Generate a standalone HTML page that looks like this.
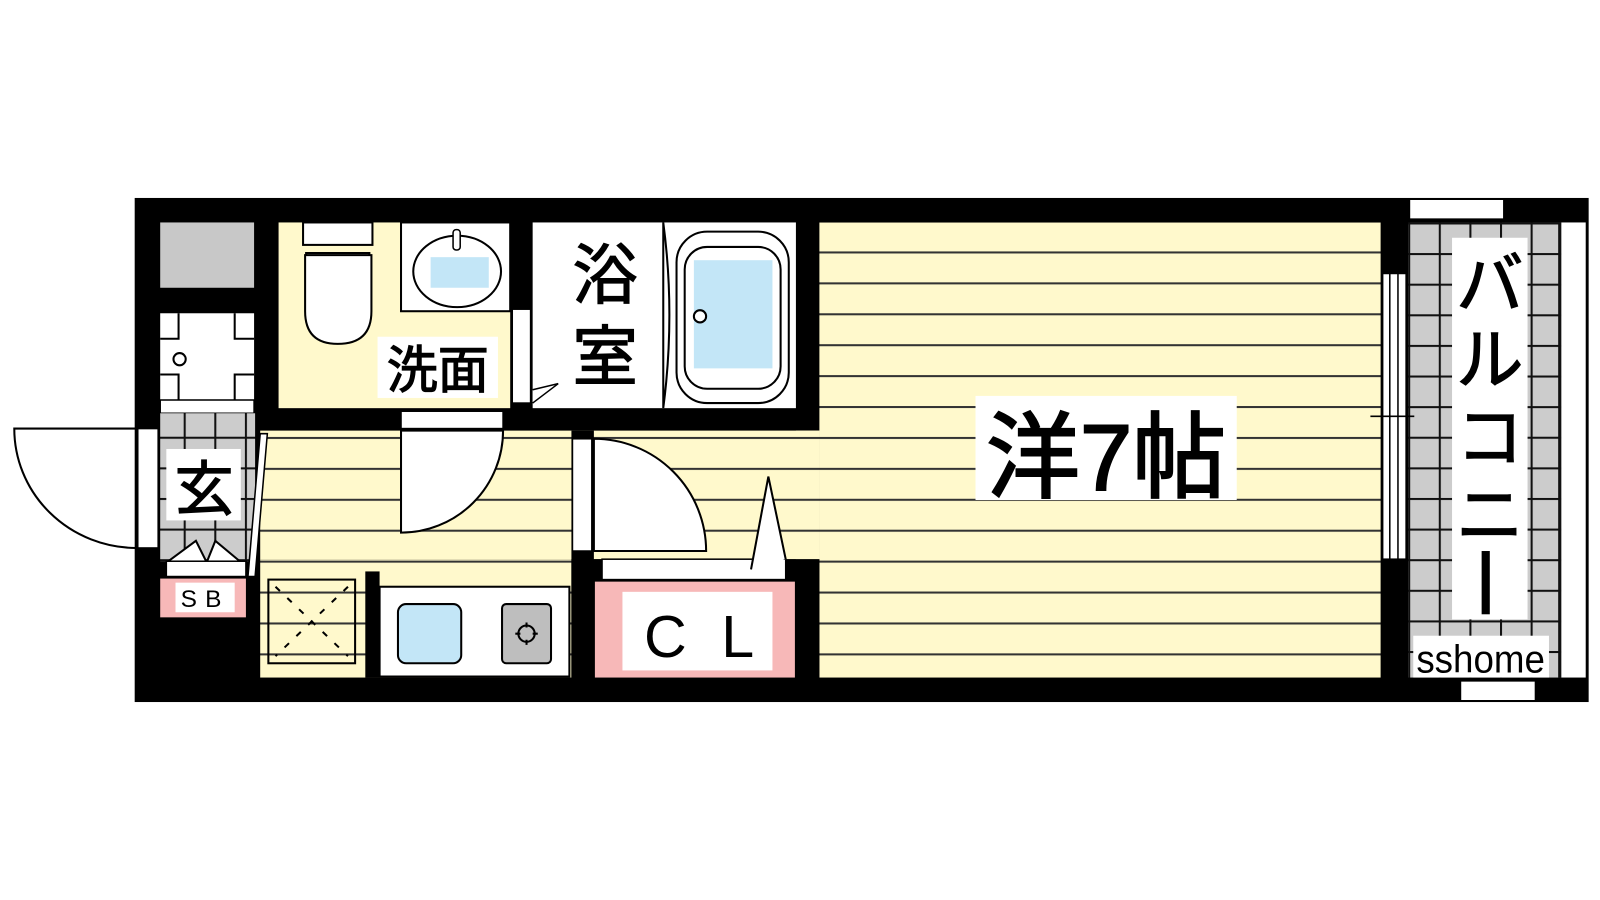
<!DOCTYPE html>
<html><head><meta charset="utf-8"><style>
html,body{margin:0;padding:0;background:#fff;}
svg{display:block;}
text{font-family:"Liberation Sans","Noto Sans CJK JP",sans-serif;fill:#000;}
.b{stroke:#000;stroke-width:1.2;}
</style></head><body>
<svg width="1600" height="900" viewBox="0 0 1568 882" preserveAspectRatio="none" xmlns="http://www.w3.org/2000/svg">
<defs>
<pattern id="st" x="0" y="4" width="10" height="30.3" patternUnits="userSpaceOnUse">
<rect width="10" height="30.3" fill="#FFF9CC"/><rect y="0" width="10" height="2" fill="#333"/>
</pattern>
<pattern id="gr" x="1380" y="218" width="30" height="30" patternUnits="userSpaceOnUse">
<rect width="30" height="30" fill="#CCCCCC"/><rect x="0" y="0" width="30" height="2" fill="#111"/><rect x="0" y="0" width="2" height="30" fill="#111"/>
</pattern>
</defs>
<rect x="132" y="194" width="1425" height="494" fill="#000"/>
<rect x="1380" y="218" width="150" height="446" fill="url(#gr)"/>
<rect x="1530" y="218" width="24" height="446" fill="#fff"/>
<rect x="1527" y="218" width="3" height="446" fill="#111"/>
<rect x="1382" y="196" width="91" height="18" fill="#fff"/>
<rect x="1432" y="668" width="72" height="18" fill="#fff"/>
<rect x="1557" y="194" width="11" height="494" fill="#fff"/>
<rect x="803" y="218" width="550" height="446" fill="url(#st)"/>
<rect x="255" y="422" width="548" height="126" fill="url(#st)"/>
<rect x="255" y="548" width="305" height="116" fill="url(#st)"/>
<rect x="780" y="422" width="23" height="126" fill="url(#st)"/>
<rect x="560" y="422" width="22" height="242" fill="#000"/>
<rect x="780" y="548" width="23" height="116" fill="#000"/>
<rect x="358" y="560" width="14" height="104" fill="#000"/>
<rect x="560" y="548" width="220" height="116" fill="#000"/>
<rect x="561" y="430" width="19" height="110" fill="#fff" stroke="#000" stroke-width="1.5"/>
<rect x="590" y="548" width="180" height="20" fill="#fff" stroke="#000" stroke-width="1.5"/>
<rect x="583" y="570" width="196" height="94" fill="#F7B8B8"/>
<rect x="610" y="580" width="147" height="77" fill="#fff"/>
<text x="652" y="644" font-size="58" text-anchor="middle">C</text>
<text x="723" y="644" font-size="58" text-anchor="middle">L</text>
<rect x="372" y="575" width="186" height="88" fill="#fff" stroke="#000" stroke-width="2"/>
<rect x="390" y="592" width="62" height="58" rx="8" fill="#C3E6F7" stroke="#000" stroke-width="2"/>
<rect x="492" y="592" width="48" height="58" rx="4" fill="#BEBEBE" stroke="#000" stroke-width="2"/>
<circle cx="516" cy="621" r="8" fill="none" stroke="#000" stroke-width="2"/>
<path d="M516 610v5M516 627v5M505 621h5M522 621h5" stroke="#000" stroke-width="2"/>
<rect x="263" y="568" width="85" height="82" fill="none" stroke="#000" stroke-width="2"/>
<path d="M270 575L341 643M341 575L270 643" stroke="#000" stroke-width="2" stroke-dasharray="6,10"/>
<rect x="273" y="218" width="227" height="182" fill="#FFF9CC"/>
<rect x="297" y="218" width="68" height="22" fill="#fff" stroke="#000" stroke-width="2"/>
<path d="M300 248h62v12h-18v7h-18v-7h-26z" fill="#fff" stroke="#000" stroke-width="2"/>
<path d="M299 250v55q0 32 32 32q33 0 33 -32v-55z" fill="#fff" stroke="#000" stroke-width="2"/>
<rect x="393" y="218" width="107" height="87" fill="#fff" stroke="#000" stroke-width="2"/>
<ellipse cx="448" cy="266" rx="43" ry="35" fill="#fff" stroke="#000" stroke-width="2"/>
<rect x="422" y="252" width="57" height="30" fill="#C3E6F7"/>
<rect x="444" y="225" width="7" height="20" rx="3" fill="#fff" stroke="#000" stroke-width="1.5"/>
<rect x="370" y="330" width="118" height="60" fill="#fff"/>
<text class="b" x="429" y="380" font-size="50" text-anchor="middle">洗面</text>
<rect x="522" y="218" width="258" height="182" fill="#fff"/>
<rect x="502" y="303" width="18" height="92" fill="#fff" stroke="#000" stroke-width="1.5"/>
<path d="M522 382l25 -6l-25 19" fill="#fff" stroke="#000" stroke-width="1.5"/>
<path d="M650 218v182M650 218q12 90 0 182" stroke="#000" stroke-width="2" fill="none"/>
<rect x="663" y="227" width="110" height="168" rx="30" fill="#fff" stroke="#000" stroke-width="2"/>
<rect x="671" y="242" width="94" height="139" rx="22" fill="#fff" stroke="#000" stroke-width="2"/>
<rect x="680" y="255" width="77" height="106" fill="#C3E6F7"/>
<circle cx="686" cy="310" r="6" fill="#fff" stroke="#000" stroke-width="2"/>
<text class="b" x="593" y="292" font-size="64" text-anchor="middle">浴</text>
<text class="b" x="593" y="372" font-size="64" text-anchor="middle">室</text>
<rect x="393" y="403" width="100" height="17" fill="#fff" stroke="#000" stroke-width="1.5"/>
<path d="M393 422V522A100 100 0 0 0 493 422Z" fill="#fff" stroke="#000" stroke-width="2"/>
<path d="M582 430V540H692A110 110 0 0 0 582 430Z" fill="#fff" stroke="#000" stroke-width="2"/>
<path d="M736 558L753 467L770 548" fill="#fff" stroke="#000" stroke-width="2"/>
<rect x="157" y="218" width="92" height="64" fill="#C8C8C8"/>
<rect x="157" y="307" width="92" height="85" fill="#fff"/>
<path d="M175 307v25h-18M230 307v25h19M175 392v-25h-18M230 392v-25h19" stroke="#000" stroke-width="2" fill="none"/>
<circle cx="176" cy="352" r="6" fill="#fff" stroke="#000" stroke-width="2"/>
<rect x="157" y="392" width="92" height="13" fill="#fff" stroke="#000" stroke-width="1.5"/>
<rect x="157" y="405" width="93" height="145" fill="url(#gr)"/>
<path d="M262 425L250 565L243 565L255 425Z" fill="#fff" stroke="#000" stroke-width="1.5"/>
<rect x="163" y="440" width="73" height="70" fill="#fff"/>
<text class="b" x="200" y="500" font-size="58" text-anchor="middle">玄</text>
<path d="M165 550l27 -20l10 20M203 550l8 -20l24 20" fill="#fff" stroke="#000" stroke-width="2"/>
<rect x="163" y="550" width="78" height="15" fill="#fff" stroke="#000" stroke-width="1.5"/>
<rect x="157" y="567" width="84" height="38" fill="#F7B8B8"/>
<rect x="172" y="571" width="58" height="29" fill="#fff"/>
<text x="201" y="595" font-size="24" text-anchor="middle" letter-spacing="8">SB</text>
<rect x="135" y="420" width="20" height="117" fill="#fff" stroke="#000" stroke-width="1.5"/>
<path d="M14 420H133V537A120 117 0 0 1 14 420Z" fill="#fff" stroke="#000" stroke-width="2"/>
<rect x="1355" y="268" width="23" height="280" fill="#fff" stroke="#000" stroke-width="1.5"/>
<path d="M1362 268V548M1370 268V548M1343 408H1386" stroke="#000" stroke-width="1.5"/>
<rect x="956" y="388" width="256" height="102" fill="#fff"/>
<text class="b" x="1084" y="480" font-size="92" text-anchor="middle" style="stroke-width:2">洋7帖</text>
<rect x="1423" y="233" width="74" height="374" fill="#fff"/>
<text class="b" x="1460" y="302" font-size="66" text-anchor="middle">バ</text>
<text class="b" x="1460" y="376" font-size="66" text-anchor="middle">ル</text>
<text class="b" x="1460" y="452" font-size="66" text-anchor="middle">コ</text>
<text class="b" x="1460" y="528" font-size="66" text-anchor="middle">ニ</text>
<rect x="1452" y="540" width="8" height="62" fill="#000"/>
<rect x="1385" y="623" width="133" height="41" fill="#fff"/>
<text x="1451" y="659" font-size="38" text-anchor="middle" textLength="126" lengthAdjust="spacingAndGlyphs">sshome</text>
</svg>
</body></html>
